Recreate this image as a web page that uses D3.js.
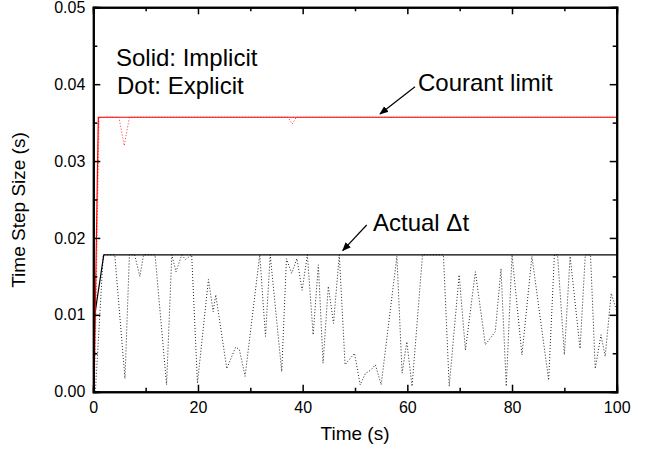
<!DOCTYPE html>
<html>
<head>
<meta charset="utf-8">
<script src="https://cdn.jsdelivr.net/npm/d3@7"></script>
<style>
	body { margin: 0; background: #fff; }
	svg { font-family: "Liberation Sans", Arial, sans-serif; }
	.axis path, .axis line { stroke: #000; }
	.axis text { font-size: 16px; fill: #000; }
</style>
</head>
<body>
<div class="wrapper"></div>
<script>

// red solid: implicit Courant limit
var implicitCourantT = [0.13, 0.96, 100];
var implicitCourantDt = [0, 0.0357, 0.0357];

// red dots: explicit Courant limit
var explicitCourantT = [0.25, 1.1, 4.9, 5.9, 6.9, 37.2, 38.0, 38.8, 100];
var explicitCourantDt = [0, 0.0357, 0.0357, 0.032, 0.0357, 0.0357, 0.0348, 0.0357, 0.0357];

// black solid: implicit actual dt
var implicitActualT = [0, 0.3, 2.0, 100];
var implicitActualDt = [0, 0.0101, 0.0178, 0.0178];

// black dots: explicit actual dt
var explicitActualT = [0.4, 1.9, 4.1, 6.05, 6.9, 7.9, 8.9, 9.6, 11.8, 14.0,
	15.0, 15.8, 16.9, 17.6, 18.8, 19.9, 22.0, 22.9, 23.4, 25.5,
	27.2, 27.9, 29.0, 31.8, 32.9, 33.8, 36.0, 36.9, 37.9, 38.9,
	39.9, 40.9, 42.0, 43.0, 43.9, 44.9, 45.9, 47.0, 48.1, 49.9,
	51.0, 52.0, 53.0, 53.9, 55.0, 58.0, 59.0, 59.9, 60.9, 62.9,
	66.9, 68.0, 69.9, 71.1, 73.0, 74.9, 76.8, 77.9, 78.9, 80.0,
	81.9, 83.8, 87.0, 88.1, 88.7, 90.0, 91.1, 93.0, 94.0, 95.0,
	95.9, 97.0, 97.8, 98.95, 100];
var explicitActualDt = [0, 0.0178, 0.0178, 0.0017, 0.0178, 0.0178, 0.015, 0.0178, 0.0178, 0.0009,
	0.0178, 0.0156, 0.0178, 0.0172, 0.0178, 0.0011, 0.0146, 0.0104, 0.0126, 0.003,
	0.0058, 0.0055, 0.002, 0.0178, 0.0072, 0.0178, 0.0026, 0.0173, 0.0154, 0.0173,
	0.0132, 0.0178, 0.0074, 0.0165, 0.0037, 0.0137, 0.0089, 0.0178, 0.0035, 0.005,
	0.0009, 0.0024, 0.0028, 0.0035, 0.0009, 0.0176, 0.0024, 0.0065, 0.0007, 0.0178,
	0.0178, 0.0007, 0.0152, 0.0054, 0.0156, 0.0061, 0.0078, 0.016, 0.0007, 0.0178,
	0.0048, 0.0176, 0.0015, 0.0178, 0.0178, 0.0048, 0.0176, 0.0056, 0.0178, 0.0178,
	0.003, 0.0074, 0.0046, 0.0128, 0.0105];

var xMajor = [0, 20, 40, 60, 80, 100];
var xMinor = [10, 30, 50, 70, 90];
var yMajor = [0, 0.01, 0.02, 0.03, 0.04, 0.05];
var yMinor = [0.005, 0.015, 0.025, 0.035, 0.045];

var W = 648, H = 452,
	LEFT = 93.3, TOP = 7.3,
	PW = 523.4, PH = 384.4,
	MAJOR = 7, MINOR = 4;

var svg = d3.select(".wrapper")
	.append("svg")
		.attr("width", W)
		.attr("height", H);

var g = svg.append("g")
	.attr("transform", "translate(" + LEFT + "," + TOP + ")");

var x = d3.scaleLinear().domain([0, 100]).range([0, PW]);
var y = d3.scaleLinear().domain([0, 0.05]).range([PH, 0]);

function pairs(ts, vs) {
	return ts.map(function(t, i) { return [t, vs[i]]; });
}

var line = d3.line()
	.x(function(d) { return x(d[0]); })
	.y(function(d) { return y(d[1]); });

var defs = svg.append("defs");
defs.append("clipPath").attr("id", "clip")
	.append("rect").attr("width", PW).attr("height", PH);
defs.append("marker")
	.attr("id", "arrow")
	.attr("viewBox", "0 0 10 10")
	.attr("refX", 9).attr("refY", 5)
	.attr("markerWidth", 9).attr("markerHeight", 9)
	.attr("markerUnits", "userSpaceOnUse")
	.attr("orient", "auto")
	.append("path")
		.attr("d", "M0,1 L10,5 L0,9 Z")
		.attr("fill", "#000");

var plot = g.append("g").attr("clip-path", "url(#clip)");

plot.append("path")
	.datum(pairs(explicitActualT, explicitActualDt))
	.attr("d", line)
	.attr("fill", "none")
	.attr("stroke", "#222")
	.attr("stroke-width", 1)
	.attr("stroke-dasharray", "1,2");

plot.append("path")
	.datum(pairs(explicitCourantT, explicitCourantDt))
	.attr("d", line)
	.attr("fill", "none")
	.attr("stroke", "#ff3030")
	.attr("stroke-width", 1)
	.attr("stroke-dasharray", "1,2");

plot.append("path")
	.datum(pairs(implicitActualT, implicitActualDt))
	.attr("d", line)
	.attr("fill", "none")
	.attr("stroke", "#000")
	.attr("stroke-width", 1.2);

plot.append("path")
	.datum(pairs(implicitCourantT, implicitCourantDt))
	.attr("d", line)
	.attr("fill", "none")
	.attr("stroke", "#ff0000")
	.attr("stroke-width", 1.2);

// axes, ticks pointing inward on all four sides
function fmtY(d) { return d3.format(".2f")(d); }

g.append("g").attr("class", "axis")
	.attr("transform", "translate(0," + PH + ")")
	.call(d3.axisBottom(x).tickValues(xMajor).tickSize(-MAJOR).tickPadding(10).tickFormat(d3.format("d")));
g.append("g").attr("class", "axis")
	.attr("transform", "translate(0," + PH + ")")
	.call(d3.axisBottom(x).tickValues(xMinor).tickSize(-MINOR).tickFormat(""));
g.append("g").attr("class", "axis")
	.call(d3.axisTop(x).tickValues(xMajor).tickSize(-MAJOR).tickFormat(""));
g.append("g").attr("class", "axis")
	.call(d3.axisTop(x).tickValues(xMinor).tickSize(-MINOR).tickFormat(""));

g.append("g").attr("class", "axis")
	.call(d3.axisLeft(y).tickValues(yMajor).tickSize(-MAJOR).tickPadding(8).tickFormat(fmtY));
g.append("g").attr("class", "axis")
	.call(d3.axisLeft(y).tickValues(yMinor).tickSize(-MINOR).tickFormat(""));
g.append("g").attr("class", "axis")
	.attr("transform", "translate(" + PW + ",0)")
	.call(d3.axisRight(y).tickValues(yMajor).tickSize(-MAJOR).tickFormat(""));
g.append("g").attr("class", "axis")
	.attr("transform", "translate(" + PW + ",0)")
	.call(d3.axisRight(y).tickValues(yMinor).tickSize(-MINOR).tickFormat(""));

g.selectAll(".axis path.domain").attr("stroke-width", 2);
g.selectAll(".axis .tick line").attr("stroke-width", 1.5);

// axis titles
svg.append("text")
	.attr("x", LEFT + PW / 2)
	.attr("y", 440)
	.attr("text-anchor", "middle")
	.attr("font-size", 19)
	.text("Time (s)");

svg.append("text")
	.attr("transform", "translate(25,210) rotate(-90)")
	.attr("text-anchor", "middle")
	.attr("font-size", 19)
	.text("Time Step Size (s)");

// annotations
svg.append("text").attr("x", 116).attr("y", 65.7).attr("font-size", 24).text("Solid: Implicit");
svg.append("text").attr("x", 117).attr("y", 94).attr("font-size", 24).text("Dot: Explicit");
svg.append("text").attr("x", 418).attr("y", 90.7).attr("font-size", 24).text("Courant limit");
svg.append("text").attr("x", 373).attr("y", 230.5).attr("font-size", 24).text("Actual \u0394t");

svg.append("line")
	.attr("x1", 415).attr("y1", 86.7).attr("x2", 380).attr("y2", 114)
	.attr("stroke", "#000").attr("stroke-width", 1.2)
	.attr("marker-end", "url(#arrow)");
svg.append("line")
	.attr("x1", 366.7).attr("y1", 225).attr("x2", 342.7).attr("y2", 250.7)
	.attr("stroke", "#000").attr("stroke-width", 1.2)
	.attr("marker-end", "url(#arrow)");

</script>
</body>
</html>
